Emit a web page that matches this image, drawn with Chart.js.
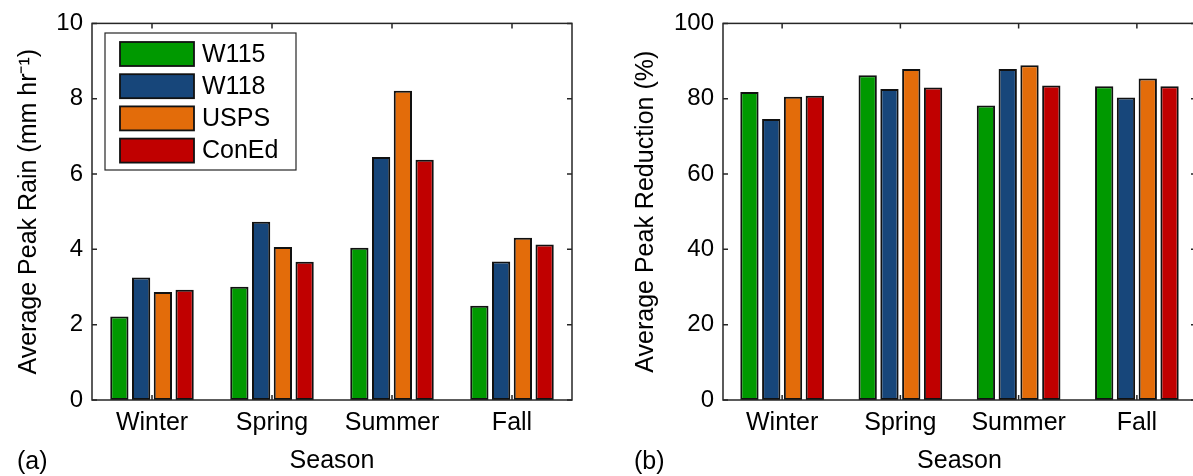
<!DOCTYPE html>
<html>
<head>
<meta charset="utf-8">
<script src="https://cdn.jsdelivr.net/npm/chart.js@4.4.1/dist/chart.umd.min.js"></script>
<style>
html,body{margin:0;padding:0;background:#fff;overflow:hidden;width:1193px;height:476px;}
#wrapA{position:absolute;left:0;top:0;width:600px;height:476px;}
#wrapB{position:absolute;left:600px;top:0;width:620px;height:476px;}
.tag{position:absolute;font-family:"Liberation Sans",Arial,sans-serif;font-size:25px;line-height:25px;color:#000;}
</style>
</head>
<body>
<div id="wrapA"><canvas id="rainChart" width="600" height="476"></canvas></div>
<div id="wrapB"><canvas id="reductionChart" width="620" height="476"></canvas></div>
<div class="tag" style="left:17px;top:448px">(a)</div>
<div class="tag" style="left:634px;top:448px">(b)</div>
<script>
const seasons = ['Winter', 'Spring', 'Summer', 'Fall'];
const sites = ['W115', 'W118', 'USPS', 'ConEd'];
const siteColors = ['#009900', '#17467a', '#e36c0a', '#c00000'];

// (a) average peak rain, mm/hr
const rainW115  = [2.22, 3.01, 4.04, 2.50];
const rainW118  = [3.25, 4.73, 6.45, 3.68];
const rainUSPS  = [2.87, 4.06, 8.21, 4.31];
const rainConEd = [2.93, 3.67, 6.38, 4.13];
const rainTicks = [0, 2, 4, 6, 8, 10];

// (b) average peak reduction, %
const redW115  = [81.8, 86.2, 78.2, 83.3];
const redW118  = [74.6, 82.6, 87.9, 80.3];
const redUSPS  = [80.5, 87.9, 88.9, 85.4];
const redConEd = [80.8, 83.0, 83.5, 83.3];
const redTicks = [0, 20, 40, 60, 80, 100];

Chart.defaults.font.family = '"Liberation Sans", Arial, sans-serif';
Chart.defaults.font.size = 25;
Chart.defaults.color = '#000';

// box around the axes with inward ticks, plus optional legend inside the plot
const boxPlugin = {
  id: 'matlabBox',
  afterDatasetsDraw(chart, args, opts) {
    const {ctx, chartArea: a, scales: {x, y}} = chart;
    ctx.save();
    ctx.strokeStyle = '#262626';
    ctx.lineWidth = 1.5;
    ctx.strokeRect(a.left, a.top, a.right - a.left, a.bottom - a.top);
    const t = 5;
    ctx.beginPath();
    y.ticks.forEach(tk => {
      const py = y.getPixelForValue(tk.value);
      ctx.moveTo(a.left, py); ctx.lineTo(a.left + t, py);
      ctx.moveTo(a.right, py); ctx.lineTo(a.right - t, py);
    });
    x.ticks.forEach((tk, i) => {
      const px = x.getPixelForTick(i);
      ctx.moveTo(px, a.bottom); ctx.lineTo(px, a.bottom - t);
      ctx.moveTo(px, a.top); ctx.lineTo(px, a.top + t);
    });
    ctx.stroke();

    if (opts.legend) {
      const L = opts.legend;
      ctx.fillStyle = '#fff';
      ctx.fillRect(L.x, L.y, L.w, L.h);
      ctx.lineWidth = 1.2;
      ctx.strokeStyle = '#262626';
      ctx.strokeRect(L.x, L.y, L.w, L.h);
      ctx.font = '25px "Liberation Sans", Arial, sans-serif';
      ctx.textBaseline = 'middle';
      ctx.textAlign = 'left';
      chart.data.datasets.forEach((ds, i) => {
        const top = L.y + 9 + i * 32.2;
        ctx.fillStyle = ds.backgroundColor;
        ctx.fillRect(L.x + 15, top, 74, 24);
        ctx.lineWidth = 1.8;
        ctx.strokeStyle = '#111';
        ctx.strokeRect(L.x + 15, top, 74, 24);
        ctx.fillStyle = '#000';
        ctx.fillText(ds.label, L.x + 97, top + 13);
      });
    }
    ctx.restore();
  }
};

function makeDatasets(series, catPct) {
  return series.map((vals, i) => ({
    label: sites[i],
    data: vals,
    backgroundColor: siteColors[i],
    borderColor: '#111',
    borderWidth: 2,
    borderSkipped: false,
    categoryPercentage: catPct,
    barPercentage: 0.84
  }));
}

function makeChart(id, series, ticks, yTitle, pad, yWidth, catPct, legend) {
  new Chart(document.getElementById(id), {
    type: 'bar',
    data: { labels: seasons, datasets: makeDatasets(series, catPct) },
    options: {
      responsive: false,
      animation: false,
      layout: { padding: pad },
      plugins: {
        legend: { display: false },
        tooltip: { enabled: false },
        matlabBox: { legend: legend }
      },
      scales: {
        x: {
          grid: { display: false, drawTicks: false },
          border: { display: false },
          ticks: { padding: 8, font: { size: 25 } },
          title: { display: true, text: 'Season', padding: { top: 0, bottom: 0 }, font: { size: 25 } },
          afterFit: s => { s.height = 76; }
        },
        y: {
          min: ticks[0],
          max: ticks[ticks.length - 1],
          grid: { display: false, drawTicks: false },
          border: { display: false },
          ticks: { padding: 9, font: { size: 24 } },
          afterBuildTicks: s => { s.ticks = ticks.map(v => ({ value: v })); },
          title: { display: true, text: yTitle, padding: { top: 0, bottom: 0 }, font: { size: 25 } },
          afterFit: s => { s.width = yWidth; }
        }
      }
    },
    plugins: [boxPlugin]
  });
}

makeChart('rainChart', [rainW115, rainW118, rainUSPS, rainConEd], rainTicks,
  'Average Peak Rain (mm hr\u207B\u00B9)', { left: 14, right: 28, top: 21, bottom: 0 }, 78, 0.725,
  { x: 105, y: 33, w: 191, h: 137 });

makeChart('reductionChart', [redW115, redW118, redUSPS, redConEd], redTicks,
  'Average Peak Reduction (%)', { left: 31, right: 24, top: 21, bottom: 0 }, 92, 0.737, null);
</script>
</body>
</html>
